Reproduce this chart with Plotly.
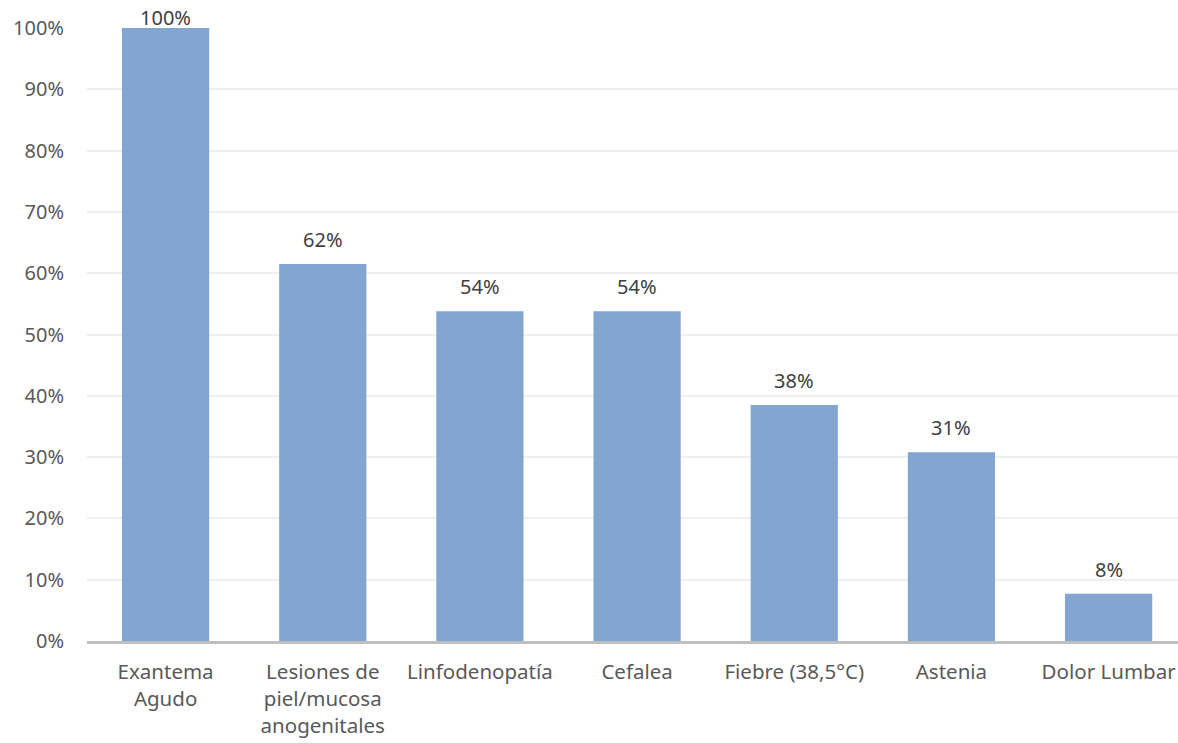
import plotly.graph_objects as go

categories = ["Exantema<br>Agudo", "Lesiones de<br>piel/mucosa<br>anogenitales", "Linfodenopatía",
              "Cefalea", "Fiebre (38,5°C)", "Astenia", "Dolor Lumbar"]
values = [1.0, 0.615, 0.538, 0.538, 0.385, 0.308, 0.077]
labels = ["100%", "62%", "54%", "54%", "38%", "31%", "8%"]
y_ticks = [0, 0.1, 0.2, 0.3, 0.4, 0.5, 0.6, 0.7, 0.8, 0.9, 1.0]
y_ticktext = ["0%", "10%", "20%", "30%", "40%", "50%", "60%", "70%", "80%", "90%", "100%"]

FONT = "Noto Sans"
TXT = "#595959"

fig = go.Figure()
fig.add_trace(go.Bar(x=list(range(len(categories))), y=values, marker_color="#82A6CF",
                     marker_line_width=0, width=0.555))

for i, (v, t) in enumerate(zip(values, labels)):
    fig.add_annotation(x=i, y=v, text=t, showarrow=False, yanchor="bottom",
                       yshift=(9 if v < 0.95 else -5),
                       font=dict(family=FONT, size=20, color="#404040"))

fig.update_layout(
    width=1178, height=743,
    margin=dict(l=87, r=0, t=28, b=102),
    paper_bgcolor="white", plot_bgcolor="white",
    showlegend=False,
    xaxis=dict(tickmode="array", tickvals=list(range(len(categories))), ticktext=categories,
               range=[-0.5, -0.5 + 1091 / 157.17], showgrid=False, showline=True,
               linecolor="#BFBFBF", linewidth=2.5, ticks="", ticklabelstandoff=11,
               ticklabeloverflow="allow",
               tickfont=dict(family=FONT, size=20.5, color=TXT)),
    yaxis=dict(range=[0, 1], tickvals=y_ticks, ticktext=y_ticktext, showgrid=True,
               gridcolor="#EFEFEF", gridwidth=1.5, zeroline=False, showline=False, ticks="",
               ticklabelstandoff=22, tickfont=dict(family=FONT, size=20, color=TXT)),
)

fig.write_html("out.html", config={"displayModeBar": False},
               post_script="document.body.style.margin='0px';document.body.style.overflow='hidden';")
